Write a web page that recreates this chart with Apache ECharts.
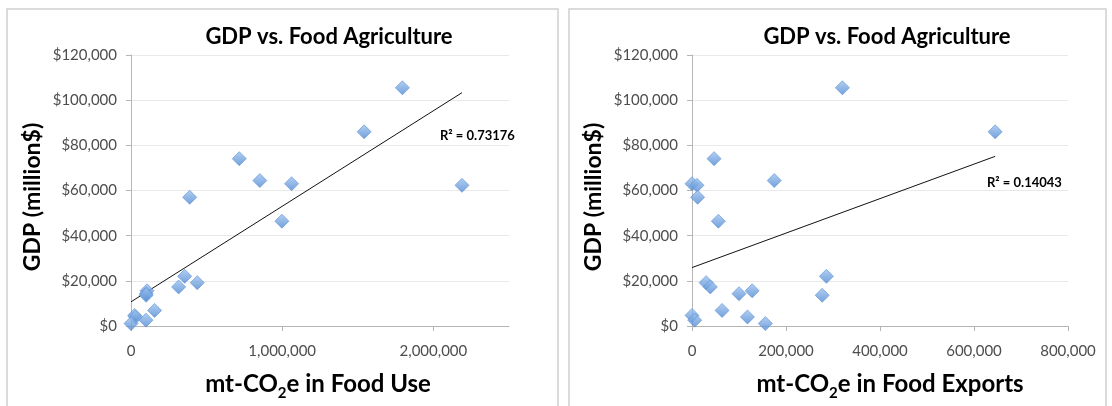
<!DOCTYPE html>
<html>
<head>
<meta charset="utf-8">
<script src="https://cdn.jsdelivr.net/npm/echarts@6/dist/echarts.min.js"></script>
<style>
  html, body { margin: 0; padding: 0; background: #ffffff; }
  #chart { width: 1112px; height: 406px; }
</style>
</head>
<body>
<div id="chart"></div>
<script>
// GDP (million $) per country, shared by both panels
const gdp = [105500, 86000, 74100, 64400, 63000, 62300, 57000, 46400, 22000, 19200,
             17300, 15600, 14300, 13600, 6900, 4700, 4000, 2600, 1100];
// mt-CO2e embodied in food use, same country order
const foodUse = [1795000, 1542000, 716000, 852000, 1062000, 2189000, 388000, 998000, 355000, 438000,
                 315000, 106000, 101000, 100000, 156000, 24000, 30000, 99000, 0];
// mt-CO2e embodied in food exports, same country order
const foodExports = [320000, 645000, 47000, 175000, 0, 10600, 12000, 56000, 286000, 30000,
                     39000, 128000, 100000, 277000, 64000, 0, 118000, 5700, 156000];

const titleText = 'GDP vs. Food Agriculture';
const r2Labels = ['R\u00B2 = 0.73176', 'R\u00B2 = 0.14043'];
const useTicks = [0, 1000000, 2000000];

const FONT = 'Lato, "Open Sans", sans-serif';

function pairs(xs, ys) { return xs.map((x, i) => [x, ys[i]]); }

// Ordinary least squares line across the x-range of the data
function trend(xs, ys) {
  const n = xs.length;
  const mx = xs.reduce((a, b) => a + b, 0) / n;
  const my = ys.reduce((a, b) => a + b, 0) / n;
  let sxy = 0, sxx = 0;
  for (let i = 0; i < n; i++) { sxy += (xs[i] - mx) * (ys[i] - my); sxx += (xs[i] - mx) ** 2; }
  const b = sxy / sxx, a = my - b * mx;
  const lo = Math.min(...xs), hi = Math.max(...xs);
  return [[lo, a + b * lo], [hi, a + b * hi]];
}

const diamond = {
  color: { type: 'linear', x: 0, y: 0, x2: 0, y2: 1,
    colorStops: [{ offset: 0, color: '#9fc4ef' }, { offset: 1, color: '#4f88d2' }] },
  borderColor: '#5f91d3', borderWidth: 0.8
};

const yAxisBase = {
  type: 'value', min: 0, max: 120000, interval: 20000,
  axisLine: { show: true, lineStyle: { color: '#b5b5b5' } },
  axisTick: { show: true, length: 5, lineStyle: { color: '#b5b5b5' } },
  splitLine: { lineStyle: { color: '#e9e9e9', width: 1 } },
  axisLabel: { color: '#4d4d4d', fontFamily: FONT, fontSize: 15, margin: 14,
    formatter: v => '$' + v.toLocaleString('en-US') }
};

const xAxisBase = {
  type: 'value', min: 0,
  axisLine: { show: true, lineStyle: { color: '#b5b5b5' } },
  axisTick: { show: true, length: 5, lineStyle: { color: '#b5b5b5' } },
  splitLine: { show: false },
  axisLabel: { color: '#4d4d4d', fontFamily: FONT, fontSize: 15, margin: 18,
    formatter: v => v.toLocaleString('en-US') }
};

const nameRich = {
  a: { fontFamily: FONT, fontWeight: 'bold', fontSize: 24, color: '#000', verticalAlign: 'top', lineHeight: 30 },
  s: { fontFamily: FONT, fontWeight: 'bold', fontSize: 15, color: '#000', verticalAlign: 'top', lineHeight: 30, padding: [14, 0, 0, 0] }
};

function axisTitle(x, y, text, rotate, size) {
  return {
    type: 'text', x: x, y: y, rotation: rotate ? Math.PI / 2 : 0,
    style: { text: text, rich: nameRich, align: 'center', verticalAlign: 'middle',
      font: 'bold ' + size + 'px ' + FONT, fill: '#000' }
  };
}

const chart = echarts.init(document.getElementById('chart'), null, { renderer: 'canvas' });

chart.setOption({
  backgroundColor: '#ffffff',
  animation: false,
  title: [
    { text: titleText, left: 324, top: 21, textAlign: 'center',
      textStyle: { fontFamily: FONT, fontWeight: 'bold', fontSize: 22, color: '#000' } },
    { text: titleText, left: 882, top: 21, textAlign: 'center',
      textStyle: { fontFamily: FONT, fontWeight: 'bold', fontSize: 22, color: '#000' } }
  ],
  grid: [
    { left: 131, right: 603, top: 55, bottom: 80 },
    { left: 692, right: 44, top: 55, bottom: 80 }
  ],
  xAxis: [
    Object.assign({}, xAxisBase, { gridIndex: 0, max: 2500000,
      axisTick: Object.assign({}, xAxisBase.axisTick, { customValues: useTicks }),
      axisLabel: Object.assign({}, xAxisBase.axisLabel, { customValues: useTicks }) }),
    Object.assign({}, xAxisBase, { gridIndex: 1, max: 800000, interval: 200000 })
  ],
  yAxis: [
    Object.assign({}, yAxisBase, { gridIndex: 0 }),
    Object.assign({}, yAxisBase, { gridIndex: 1 })
  ],
  series: [
    { type: 'line', xAxisIndex: 0, yAxisIndex: 0, data: trend(foodUse, gdp), symbol: 'none',
      lineStyle: { color: '#111', width: 1 }, z: 1, silent: true },
    { type: 'scatter', xAxisIndex: 0, yAxisIndex: 0, data: pairs(foodUse, gdp),
      symbol: 'diamond', symbolSize: 14, itemStyle: diamond, z: 2 },
    { type: 'line', xAxisIndex: 1, yAxisIndex: 1, data: trend(foodExports, gdp), symbol: 'none',
      lineStyle: { color: '#111', width: 1 }, z: 1, silent: true },
    { type: 'scatter', xAxisIndex: 1, yAxisIndex: 1, data: pairs(foodExports, gdp),
      symbol: 'diamond', symbolSize: 14, itemStyle: diamond, z: 2 }
  ],
  graphic: [
    // panel frames
    { type: 'rect', shape: { x: 7, y: 9, width: 551, height: 410 },
      style: { fill: null, stroke: '#cfcfcf', lineWidth: 1.5 }, silent: true },
    { type: 'rect', shape: { x: 569, y: 9, width: 537, height: 410 },
      style: { fill: null, stroke: '#cfcfcf', lineWidth: 1.5 }, silent: true },
    // axis titles
    axisTitle(33, 197, 'GDP (million$)', true, 23),
    axisTitle(594, 197, 'GDP (million$)', true, 23),
    axisTitle(318, 387, '{a|mt-CO}{s|2}{a|e in Food Use}', false, 24),
    axisTitle(890, 387, '{a|mt-CO}{s|2}{a|e in Food Exports}', false, 24),
    // coefficient of determination
    { type: 'text', x: 440, y: 136,
      style: { text: r2Labels[0], font: 'bold 13px ' + FONT, fill: '#000', verticalAlign: 'middle' } },
    { type: 'text', x: 987, y: 183,
      style: { text: r2Labels[1], font: 'bold 13px ' + FONT, fill: '#000', verticalAlign: 'middle' } }
  ]
});
</script>
</body>
</html>
